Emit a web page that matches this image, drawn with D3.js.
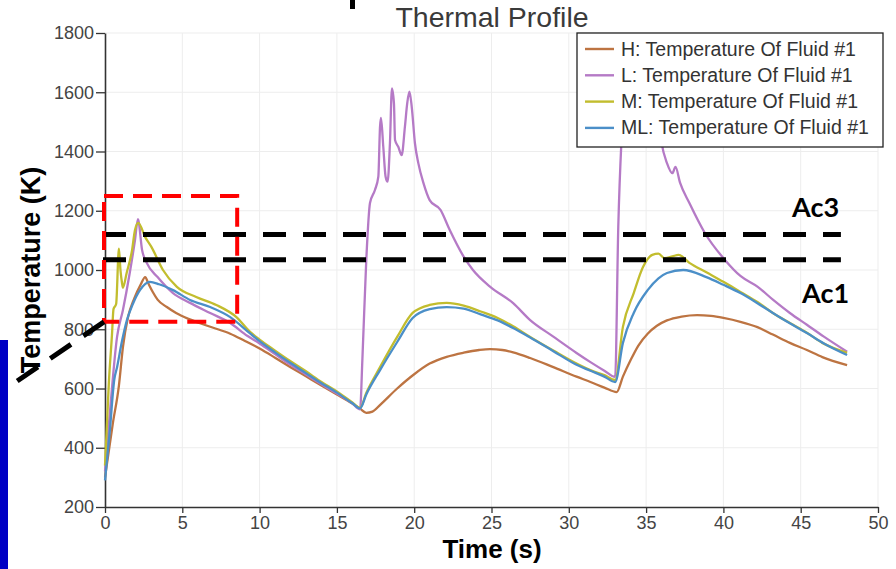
<!DOCTYPE html>
<html>
<head>
<meta charset="utf-8">
<script src="https://cdn.jsdelivr.net/npm/d3@7"></script>
<style>
  body { margin: 0; background: #fff; }
  svg { display: block; }
</style>
</head>
<body>
<svg id="chart" width="896" height="569"></svg>
<script>
// ---- data: time (s) vs fluid temperature (K) for each run ----
const seriesKeys   = ["H", "L", "M", "ML"];
const seriesLabels = ["H: Temperature Of Fluid #1", "L: Temperature Of Fluid #1",
                      "M: Temperature Of Fluid #1", "ML: Temperature Of Fluid #1"];
const seriesColors = ["#bd7442", "#b57ac6", "#c2bd2e", "#4b8fc8"];

const dataH = [
  [0, 300], [0.5, 480], [0.9, 610], [1.16, 740], [1.49, 841], [1.9, 905], [2.3, 950], [2.6, 976],
  [2.8, 955], [3.1, 925], [3.4, 900], [4.0, 875], [4.6, 855], [5.4, 835], [6.1, 821], [7.0, 805],
  [8.1, 785], [9.0, 762], [10, 735], [11, 704], [12, 672], [13, 641], [14, 610], [15, 580],
  [16, 549], [16.5, 532], [16.9, 518], [17.3, 522], [17.8, 545], [18.9, 600], [20, 648],
  [21.0, 684], [22.1, 707], [23.2, 721], [24.2, 730], [24.9, 733], [25.7, 730], [26.4, 722],
  [27.5, 703], [29, 672], [30.5, 640], [31.4, 622], [32.3, 603], [33.1, 588], [33.5, 640],
  [34.0, 696], [34.5, 745], [35.1, 785], [35.7, 812], [36.35, 830], [37.3, 843], [38.3, 848],
  [39.2, 845], [40, 838], [41.1, 825], [42.2, 807], [43.2, 782], [44.3, 754], [45.4, 730],
  [46.4, 706], [48, 679]
];

const dataL = [
  [0, 320], [0.35, 540], [0.78, 774], [1.16, 865], [1.6, 990], [1.94, 1101], [2.13, 1172],
  [2.4, 1067], [2.7, 1024], [3.4, 976], [4.4, 922], [5.5, 889], [6.8, 855], [8.1, 821],
  [9.2, 778], [10, 752], [11, 716], [12, 680], [13, 647], [14, 614], [15, 583], [16, 550],
  [16.5, 530], [16.65, 700], [16.9, 1034], [17.14, 1226], [17.46, 1270], [17.68, 1315],
  [17.79, 1484], [17.85, 1513], [18.0, 1416], [18.15, 1315], [18.28, 1298], [18.43, 1427],
  [18.56, 1613], [18.69, 1563], [18.76, 1439], [18.97, 1416], [19.19, 1388], [19.4, 1484],
  [19.55, 1563], [19.69, 1602], [19.84, 1551], [20.05, 1427], [20.27, 1360], [20.6, 1293],
  [21.0, 1236], [21.7, 1203], [22.3, 1135], [23.2, 1045], [23.8, 1000], [24.9, 944],
  [26.4, 888], [27.5, 831], [29, 775], [30.5, 720], [31.4, 689], [32.3, 660], [33.0, 639],
  [33.2, 1145], [33.4, 1429], [33.6, 1580], [33.9, 1700], [34.2, 1640], [34.6, 1730],
  [35.0, 1660], [35.4, 1720], [35.7, 1560], [36.0, 1429], [36.35, 1361], [36.7, 1327],
  [36.9, 1348], [37.2, 1294], [37.8, 1226], [38.8, 1125], [40.1, 1034], [41.1, 980],
  [42.2, 944], [43.2, 900], [44.3, 855], [45.4, 815], [46.5, 775], [48, 724]
];

const dataM = [
  [0, 340], [0.1, 450], [0.25, 620], [0.45, 780], [0.55, 868], [0.72, 885], [0.9, 1072],
  [1.0, 1000], [1.1, 956], [1.16, 940], [1.4, 990], [1.75, 1067], [1.94, 1135], [2.15, 1159],
  [2.6, 1111], [3.0, 1078], [3.75, 1000], [4.65, 943], [5.9, 909], [7.2, 882], [8.5, 841],
  [9.4, 790], [10, 765], [11, 728], [12, 692], [13, 658], [14, 622], [15, 590], [16, 553],
  [16.5, 535], [16.9, 585], [17.8, 673], [18.9, 774], [19.9, 855], [21.0, 882], [22.1, 889],
  [23.2, 880], [24.3, 860], [25.4, 838], [26.4, 810], [27.5, 774], [29, 728], [30.5, 684],
  [31.4, 662], [32.3, 645], [33.0, 629], [33.5, 808], [34.2, 922], [34.8, 1010], [35.4, 1051],
  [35.8, 1055], [36.2, 1040], [36.7, 1046], [37.1, 1051], [37.8, 1024], [38.9, 992],
  [40, 960], [41.1, 926], [42.2, 892], [43.2, 855], [44.3, 821], [45.4, 788], [46.4, 754],
  [48, 720]
];

const dataML = [
  [0, 290], [0.3, 450], [0.6, 630], [0.78, 672], [1.1, 760], [1.42, 831], [1.8, 885],
  [2.26, 932], [2.9, 960], [3.5, 952], [4.4, 932], [5.5, 899], [6.8, 875], [8.1, 841],
  [9.4, 785], [10, 760], [11, 722], [12, 686], [13, 652], [14, 618], [15, 586], [16, 550],
  [16.5, 533], [16.9, 580], [17.8, 663], [18.9, 757], [19.9, 838], [21.0, 868], [22.1, 875],
  [23.2, 870], [24.3, 850], [25.4, 830], [26.4, 804], [27.5, 772], [29, 726], [30.5, 680],
  [31.4, 660], [32.3, 640], [33.0, 622], [33.5, 754], [34.2, 855], [35.1, 932], [35.8, 972],
  [36.35, 990], [37.4, 1000], [38.9, 976], [40, 950], [41.1, 922], [42.2, 888], [43.2, 855],
  [44.3, 820], [45.4, 787], [46.5, 752], [48, 713]
];

const seriesData = [dataH, dataL, dataM, dataML];

const xTicks = [0, 5, 10, 15, 20, 25, 30, 35, 40, 45, 50];
const yTicks = [200, 400, 600, 800, 1000, 1200, 1400, 1600, 1800];

// critical transformation temperatures (K)
const criticalNames  = ["Ac3", "Ac1"];
const criticalValues = [1120, 1035];

// highlighted early heating window: time range (s) and temperature range (K)
const zoomWindowTime = [0, 8.55];
const zoomWindowTemp = [825, 1250];

// ---- drawing ----
const svg = d3.select("#chart");
const tickFont = "'Liberation Sans', Arial, sans-serif";

const x = d3.scaleLinear().domain([0, 50]).range([105, 878]);
const y = d3.scaleLinear().domain([200, 1800]).range([507, 33]);

// grid
const grid = svg.append("g").attr("stroke", "#ededed").attr("stroke-width", 1);
grid.selectAll("line.v").data(xTicks.slice(1)).join("line")
  .attr("x1", d => x(d)).attr("x2", d => x(d))
  .attr("y1", y(1800)).attr("y2", y(200));
grid.selectAll("line.h").data(yTicks.slice(1)).join("line")
  .attr("x1", x(0)).attr("x2", x(50))
  .attr("y1", d => y(d)).attr("y2", d => y(d));

// axes
const xAxis = svg.append("g")
  .attr("transform", `translate(0,${y(200)})`)
  .call(d3.axisBottom(x).tickValues(xTicks).tickFormat(d3.format("d"))
    .tickSize(6).tickSizeOuter(0).tickPadding(3));
const yAxis = svg.append("g")
  .attr("transform", `translate(${x(0)},0)`)
  .call(d3.axisLeft(y).tickValues(yTicks).tickFormat(d3.format("d"))
    .tickSize(9).tickSizeOuter(0).tickPadding(2));

[xAxis, yAxis].forEach(g => {
  g.select(".domain").attr("stroke", "#333").attr("stroke-width", 1.6);
  g.selectAll(".tick line").attr("stroke", "#333").attr("stroke-width", 1.3);
  g.selectAll(".tick text")
    .attr("fill", "#444")
    .style("font-family", tickFont)
    .style("font-size", "18px");
});

// series lines
const line = d3.line()
  .x(d => x(d[0]))
  .y(d => y(d[1]))
  .curve(d3.curveMonotoneX);

svg.append("g").selectAll("path")
  .data(seriesData)
  .join("path")
  .attr("d", d => line(d))
  .attr("fill", "none")
  .attr("stroke", (d, i) => seriesColors[i])
  .attr("stroke-width", 2.3)
  .attr("stroke-linejoin", "round");

// title
svg.append("text")
  .attr("x", 492).attr("y", 27)
  .attr("text-anchor", "middle")
  .attr("fill", "#3a3a3a")
  .style("font-family", tickFont)
  .style("font-size", "28.5px")
  .text("Thermal Profile");

// legend
const legend = svg.append("g");
legend.append("rect")
  .attr("x", 577).attr("y", 33).attr("width", 306).attr("height", 114)
  .attr("fill", "#fff").attr("stroke", "#222").attr("stroke-width", 1.3);
seriesKeys.forEach((k, i) => {
  const cy = 49 + i * 26.3;
  legend.append("line")
    .attr("x1", 585).attr("x2", 614).attr("y1", cy).attr("y2", cy)
    .attr("stroke", seriesColors[i]).attr("stroke-width", 2.4);
  legend.append("text")
    .attr("x", 621).attr("y", cy + 6.5)
    .attr("fill", "#333")
    .style("font-family", tickFont)
    .style("font-size", "19.5px")
    .text(seriesLabels[i]);
});

// axis titles
svg.append("text")
  .attr("transform", "translate(40,270) rotate(-90)")
  .attr("text-anchor", "middle")
  .attr("fill", "#000")
  .style("font-family", tickFont)
  .style("font-weight", "bold")
  .style("font-size", "27px")
  .text("Temperature (K)");

svg.append("text")
  .attr("x", 492).attr("y", 558)
  .attr("text-anchor", "middle")
  .attr("fill", "#000")
  .style("font-family", tickFont)
  .style("font-weight", "bold")
  .style("font-size", "26px")
  .text("Time (s)");

// critical temperature lines
const critEnd = 47.6;
svg.append("g").selectAll("line")
  .data(criticalValues)
  .join("line")
  .attr("x1", x(0) - 2).attr("x2", x(critEnd))
  .attr("y1", d => y(d)).attr("y2", d => y(d))
  .attr("stroke", "#000").attr("stroke-width", 5)
  .attr("stroke-dasharray", "23,17");

svg.append("text")
  .attr("x", 792).attr("y", y(criticalValues[0]) - 17)
  .attr("fill", "#000")
  .style("font-family", "Lato, 'Open Sans', sans-serif")
  .style("font-weight", "bold")
  .style("font-size", "27px")
  .text(criticalNames[0]);
svg.append("text")
  .attr("x", 802).attr("y", y(criticalValues[1]) + 43)
  .attr("fill", "#000")
  .style("font-family", "Lato, 'Open Sans', sans-serif")
  .style("font-weight", "bold")
  .style("font-size", "27px")
  .text(criticalNames[1]);

// highlighted window and its leader line
const wx0 = x(zoomWindowTime[0]) - 1, wx1 = x(zoomWindowTime[1]);
const wy0 = y(zoomWindowTemp[1]), wy1 = y(zoomWindowTemp[0]);
svg.append("rect")
  .attr("x", wx0).attr("y", wy0)
  .attr("width", wx1 - wx0).attr("height", wy1 - wy0)
  .attr("fill", "none").attr("stroke", "#ff0000").attr("stroke-width", 4)
  .attr("stroke-dasharray", "19,10");

svg.append("line")
  .attr("x1", wx0).attr("y1", wy1)
  .attr("x2", wx0 - 91).attr("y2", wy1 + 62)
  .attr("stroke", "#000").attr("stroke-width", 5)
  .attr("stroke-dasharray", "25,15");

// slide decorations around the figure
svg.append("rect").attr("x", 350).attr("y", 0).attr("width", 5).attr("height", 9).attr("fill", "#000");
svg.append("rect").attr("x", 0).attr("y", 340).attr("width", 8).attr("height", 229).attr("fill", "#0000c4");
</script>
</body>
</html>
